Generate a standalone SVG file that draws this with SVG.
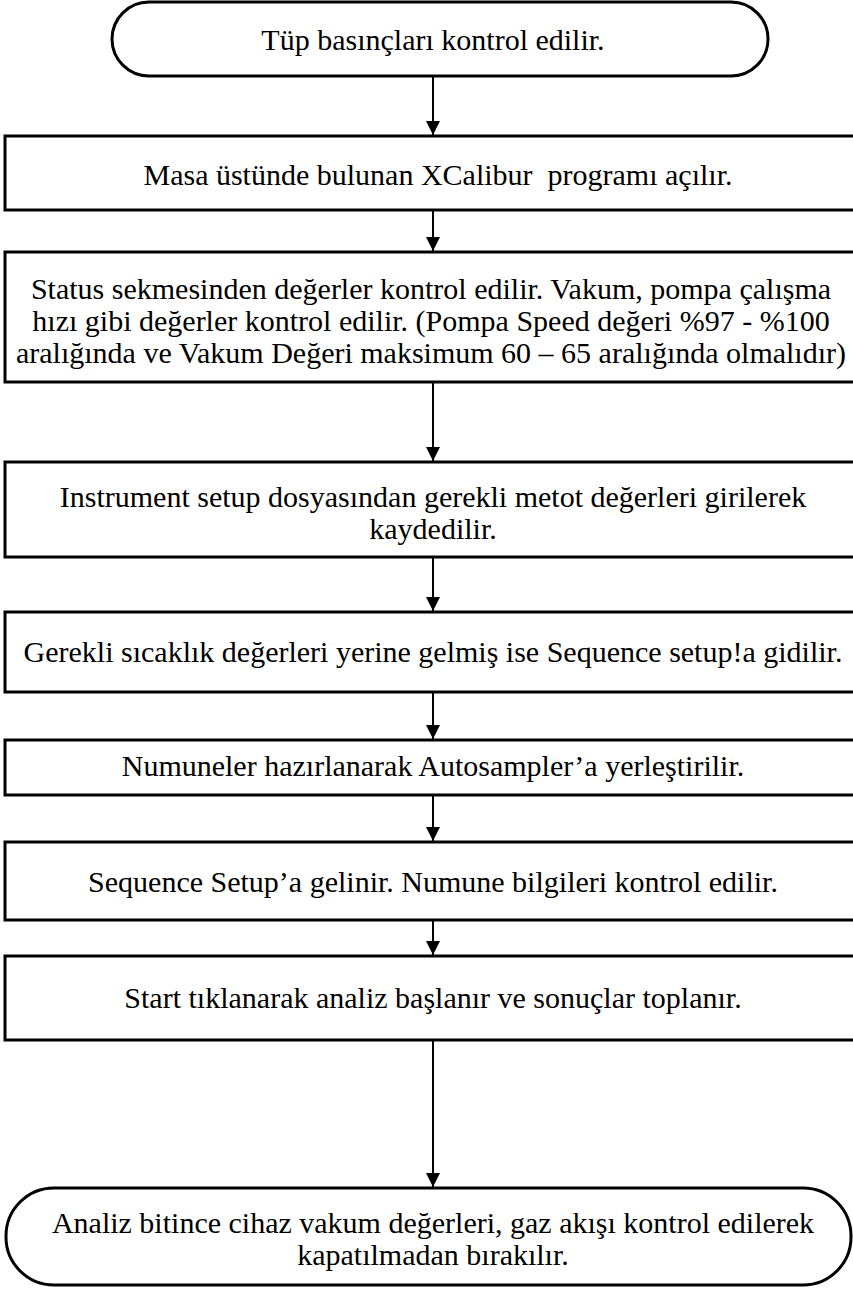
<svg xmlns="http://www.w3.org/2000/svg" width="853" height="1289" viewBox="0 0 853 1289">
<style>
.box{fill:#fff;stroke:#000;stroke-width:3}
.term{fill:#fff;stroke:#000;stroke-width:3}
.t{font-family:'Liberation Serif','Times New Roman','DejaVu Serif',serif;font-size:30px;fill:#000;text-anchor:middle}
.c{stroke:#000;stroke-width:2;fill:none}
</style>
<defs>
<marker id="ah" markerWidth="14" markerHeight="18" refX="14" refY="9" orient="auto" markerUnits="userSpaceOnUse" viewBox="0 0 14 18">
<path d="M0,2 L14,9 L0,16 Z" fill="#000"/>
</marker>
</defs>
<rect width="853" height="1289" fill="#fff"/>
<g id="connectors">
<line class="c" x1="433" y1="76" x2="433" y2="135" marker-end="url(#ah)"/>
<line class="c" x1="433" y1="210" x2="433" y2="251" marker-end="url(#ah)"/>
<line class="c" x1="433" y1="382" x2="433" y2="461" marker-end="url(#ah)"/>
<line class="c" x1="433" y1="557" x2="433" y2="611" marker-end="url(#ah)"/>
<line class="c" x1="433" y1="692" x2="433" y2="739" marker-end="url(#ah)"/>
<line class="c" x1="433" y1="795" x2="433" y2="841" marker-end="url(#ah)"/>
<line class="c" x1="433" y1="920" x2="433" y2="955" marker-end="url(#ah)"/>
<line class="c" x1="433" y1="1040" x2="433" y2="1187" marker-end="url(#ah)"/>
</g>
<g id="n1">
<rect class="term" x="112" y="2" width="656" height="74" rx="37" ry="37"/>
<text class="t" x="433" y="50">Tüp basınçları kontrol edilir.</text>
</g>
<g id="n2">
<rect class="box" x="5" y="136" width="860" height="74"/>
<text class="t" x="438" y="185" xml:space="preserve">Masa üstünde bulunan XCalibur  programı açılır.</text>
</g>
<g id="n3">
<rect class="box" x="5" y="252" width="860" height="130"/>
<text class="t" x="431" y="299">Status sekmesinden değerler kontrol edilir. Vakum, pompa çalışma</text>
<text class="t" x="431" y="331">hızı gibi değerler kontrol edilir. (Pompa Speed değeri %97 - %100</text>
<text class="t" x="431" y="363">aralığında ve Vakum Değeri maksimum 60 – 65 aralığında olmalıdır)</text>
</g>
<g id="n4">
<rect class="box" x="5" y="462" width="860" height="95"/>
<text class="t" x="433" y="507">Instrument setup dosyasından gerekli metot değerleri girilerek</text>
<text class="t" x="433" y="539">kaydedilir.</text>
</g>
<g id="n5">
<rect class="box" x="5" y="612" width="860" height="80"/>
<text class="t" x="433" y="662">Gerekli sıcaklık değerleri yerine gelmiş ise Sequence setup!a gidilir.</text>
</g>
<g id="n6">
<rect class="box" x="5" y="740" width="860" height="55"/>
<text class="t" x="433" y="776">Numuneler hazırlanarak Autosampler’a yerleştirilir.</text>
</g>
<g id="n7">
<rect class="box" x="5" y="842" width="860" height="78"/>
<text class="t" x="433" y="892">Sequence Setup’a gelinir. Numune bilgileri kontrol edilir.</text>
</g>
<g id="n8">
<rect class="box" x="5" y="956" width="860" height="84"/>
<text class="t" x="433" y="1008">Start tıklanarak analiz başlanır ve sonuçlar toplanır.</text>
</g>
<g id="n9">
<rect class="term" x="6" y="1188" width="845" height="97" rx="48" ry="48"/>
<text class="t" x="433" y="1233">Analiz bitince cihaz vakum değerleri, gaz akışı kontrol edilerek</text>
<text class="t" x="433" y="1265">kapatılmadan bırakılır.</text>
</g>
</svg>
